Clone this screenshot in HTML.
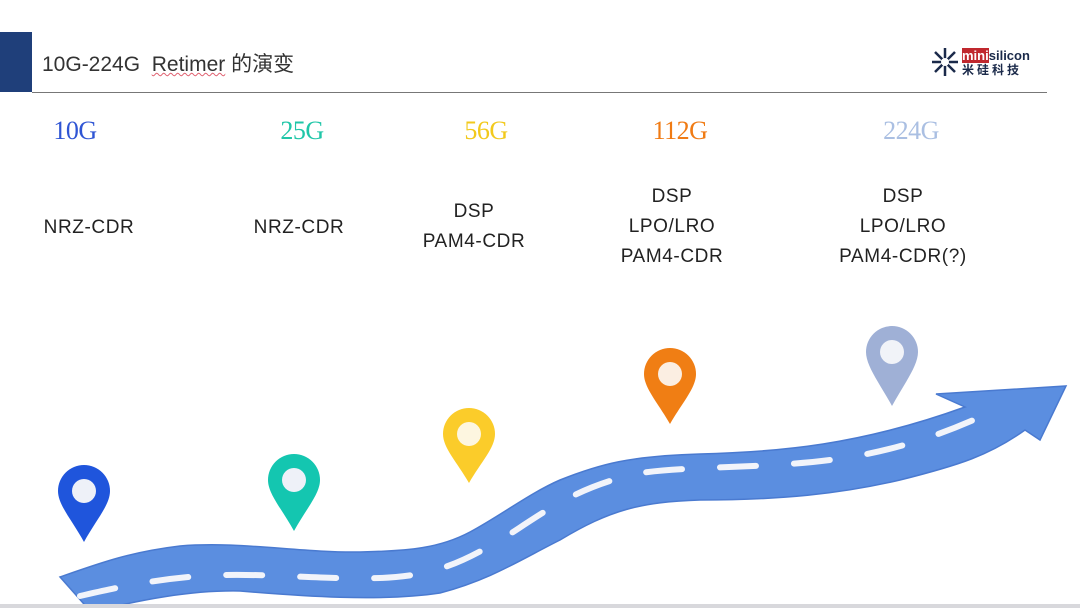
<!DOCTYPE html>
<html><head><meta charset="utf-8"><style>
html,body{margin:0;padding:0;background:#fff;}
body{width:1080px;height:608px;position:relative;overflow:hidden;font-family:"Liberation Sans","Noto Sans CJK SC",sans-serif;}
.t{position:absolute;transform:translateX(-50%);text-align:center;white-space:nowrap;}
.n{font-family:"Liberation Serif",serif;font-size:26px;top:116px;letter-spacing:-0.5px;}
.b{font-size:19px;color:#222;line-height:30px;letter-spacing:0.6px;}
</style></head><body>
<div style="position:absolute;left:0;top:32px;width:32px;height:60px;background:#1f3f7a"></div>
<div style="position:absolute;left:32px;top:92px;width:1015px;height:1px;background:#777"></div>
<div style="position:absolute;left:42px;top:48px;font-size:21px;color:#333;">10G-224G&nbsp; <span style="text-decoration:underline wavy #e06070;text-decoration-thickness:1px;">Retimer</span> 的演变</div>
<svg style="position:absolute;left:930px;top:46px" width="30" height="32" viewBox="0 0 30 32">
<g stroke="#1b2a4a" stroke-width="2.5"><line x1="15" y1="2" x2="15" y2="30"/><line x1="2" y1="16" x2="28" y2="16"/><line x1="5" y1="6" x2="25" y2="26"/><line x1="25" y1="6" x2="5" y2="26"/></g><circle cx="15" cy="16" r="4" fill="#fff"/></svg>
<div style="position:absolute;left:962px;top:49px;font-size:13px;font-weight:bold;color:#1b2a4a;line-height:14px;"><span style="background:#c0282e;color:#fff">mini</span>silicon<br><span style="letter-spacing:3px;font-size:12px">米硅科技</span></div>

<div class="t n" style="left:75px;color:#2f55d4">10G</div>
<div class="t n" style="left:302px;color:#20c6a8">25G</div>
<div class="t n" style="left:486px;color:#f2c91c">56G</div>
<div class="t n" style="left:680px;color:#f07b14">112G</div>
<div class="t n" style="left:911px;color:#aabfe2">224G</div>

<div class="t b" style="left:89px;top:213px">NRZ-CDR</div>
<div class="t b" style="left:299px;top:213px">NRZ-CDR</div>
<div class="t b" style="left:474px;top:197px">DSP<br>PAM4-CDR</div>
<div class="t b" style="left:672px;top:182px">DSP<br>LPO/LRO<br>PAM4-CDR</div>
<div class="t b" style="left:903px;top:182px">DSP<br>LPO/LRO<br>PAM4-CDR(?)</div>

<svg style="position:absolute;left:0;top:0" width="1080" height="608">
<path d="M60,577 C100,563 130,552 180,546 C240,541 300,553 360,552 C410,551 440,548 470,532 C500,516 530,493 560,480 C600,464 630,456 700,454 C780,452 860,445 965,407 L936,394 L1066,386 L1040,440 L1025,430 C990,455 960,465 900,480 C840,494 780,500 700,500 C640,502 610,510 560,540 C520,560 490,580 440,593 C380,602 300,596 240,591 C190,590 140,600 91,612 Z" fill="#5b8ee0" stroke="#4a7ad0" stroke-width="1.5"/>
<path d="M80,596 C120,587 150,580 200,576 C260,572 320,580 380,578 C440,576 470,558 510,534 C550,508 580,486 640,473 C700,465 780,469 850,457 C900,449 950,432 995,410" fill="none" stroke="#f2f4fa" stroke-width="6" stroke-linecap="round" stroke-dasharray="36 38"/>
<g>
<path d="M58,491 A26,26 0 1 1 110,491 C110,505 96,520 84,542 C72,520 58,505 58,491 Z" fill="#1f55dc"/><circle cx="84" cy="491" r="12" fill="#eef1f8"/>
<path d="M268,480 A26,26 0 1 1 320,480 C320,494 306,509 294,531 C282,509 268,494 268,480 Z" fill="#14c6b0"/><circle cx="294" cy="480" r="12" fill="#eef1f8"/>
<path d="M443,434 A26,26 0 1 1 495,434 C495,448 481,462 469,483 C457,462 443,448 443,434 Z" fill="#fbcc2a"/><circle cx="469" cy="434" r="12" fill="#fdf6e0"/>
<path d="M644,374 A26,26 0 1 1 696,374 C696,388 682,403 670,424 C658,403 644,388 644,374 Z" fill="#f07e14"/><circle cx="670" cy="374" r="12" fill="#fbeee2"/>
<path d="M866,352 A26,26 0 1 1 918,352 C918,366 904,384 892,406 C880,384 866,366 866,352 Z" fill="#9fb0d6"/><circle cx="892" cy="352" r="12" fill="#f1f3f8"/>
</g>
<rect x="0" y="604" width="1080" height="4" fill="#d8d8dc"/>
</svg>
</body></html>
